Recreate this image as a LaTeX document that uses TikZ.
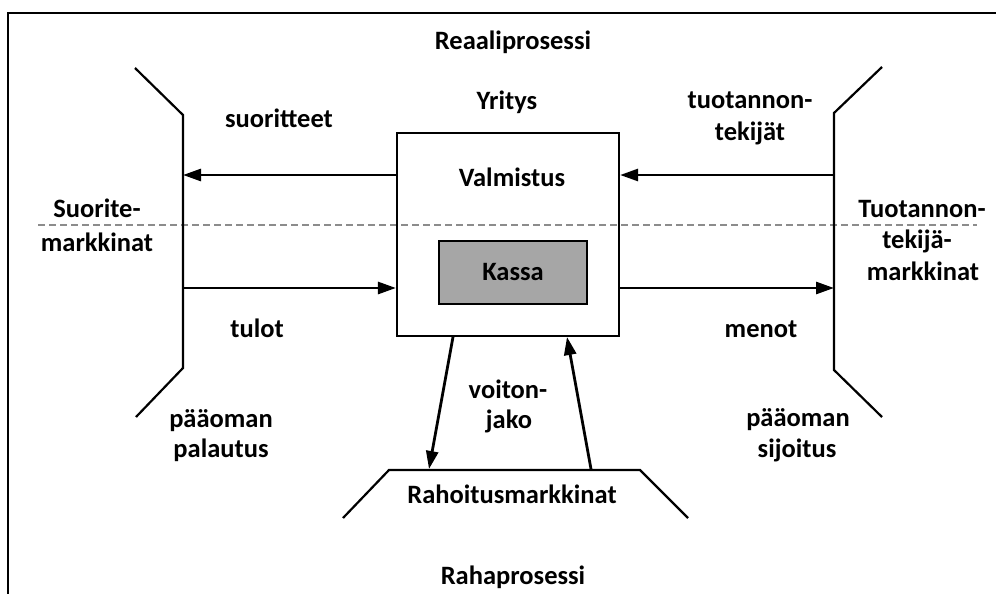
\documentclass[tikz,border=0pt]{standalone}
\usepackage{fontspec}
\setmainfont{Carlito}
\usetikzlibrary{arrows.meta}
\definecolor{kassagray}{HTML}{A6A6A6}
\definecolor{divider}{HTML}{8C8C8C}
\begin{document}
\begin{tikzpicture}[x=1pt,y=-1pt,
  lbl/.style={font=\fontsize{26.5}{31}\selectfont\bfseries, inner sep=0pt, anchor=base},
  market/.style={line width=2.2pt, line join=miter},
  flow/.style={line width=2.8pt, -{Triangle[length=18pt,width=12pt]}},
  ]
\useasboundingbox (0,0) rectangle (996,594);

% frame (top and left edges)
\draw[line width=2.4pt] (8,594) -- (8,13) -- (996,13);

% divider between real and money process
\coordinate (divL) at (38,225);
\coordinate (divR) at (977,225);
\draw[divider, line width=1.1pt, dash pattern=on 7pt off 4pt] (divL) -- (divR);

% firm with its cash box
\node[draw, line width=2.2pt, minimum width=222pt, minimum height=203pt, inner sep=0pt] (firm) at (508,234.5) {};
\node[draw, line width=2.2pt, fill=kassagray, minimum width=148pt, minimum height=63pt, inner sep=0pt,
      font=\fontsize{26.5}{31}\selectfont\bfseries] (kassa) at (513,272.5) {Kassa};

% markets
\coordinate (sA) at (135,68);
\coordinate (sB) at (183,115);
\coordinate (sC) at (183,368);
\coordinate (sD) at (136,417);
\draw[market] (sA) -- (sB) -- (sC) -- (sD);

\coordinate (tA) at (882,67);
\coordinate (tB) at (834,113);
\coordinate (tC) at (834,370);
\coordinate (tD) at (882,417);
\draw[market] (tA) -- (tB) -- (tC) -- (tD);

\coordinate (rA) at (343,518);
\coordinate (rB) at (389,470);
\coordinate (rC) at (640,470);
\coordinate (rD) at (688,518);
\draw[market] (rA) -- (rB) -- (rC) -- (rD);

% flows
\coordinate (sOut) at (183,175);
\coordinate (sIn)  at (183,288);
\coordinate (tOut) at (834,175);
\coordinate (tIn)  at (834,288);
\coordinate (fDiv) at (453,337);
\coordinate (rDiv) at (429,469);
\coordinate (rCap) at (591,469);
\coordinate (fCap) at (567,337);
\draw[flow] (firm.west |- sOut) -- (sOut);
\draw[flow] (tOut) -- (firm.east |- tOut);
\draw[flow] (sIn) -- (firm.west |- sIn);
\draw[flow] (firm.east |- tIn) -- (tIn);
\draw[flow] (fDiv) -- (rDiv);
\draw[flow] (rCap) -- (fCap);

% labels
\node[lbl] (real)  at (513,50)  {Reaaliprosessi};
\node[lbl] (yr)    at (507,110) {Yritys};
\node[lbl] (valm)  at (512,186) {Valmistus};
\node[lbl] (suor)  at (279,127) {suoritteet};
\node[lbl] (tt1)   at (750,108) {tuotannon-};
\node[lbl] (tt2)   at (750,140) {tekijät};
\node[lbl] (sm1)   at (97,217)  {Suorite-};
\node[lbl] (sm2)   at (97,251)  {markkinat};
\node[lbl] (tm1)   at (922,217) {Tuotannon-};
\node[lbl] (tm2)   at (917,248) {tekijä-};
\node[lbl] (tm3)   at (923,280) {markkinat};
\node[lbl] (tulot) at (257,337) {tulot};
\node[lbl] (menot) at (761,337) {menot};
\node[lbl] (vj1)   at (508,398) {voiton-};
\node[lbl] (vj2)   at (509,428) {jako};
\node[lbl] (pp1)   at (221,427) {pääoman};
\node[lbl] (pp2)   at (221,457) {palautus};
\node[lbl] (ps1)   at (798,426) {pääoman};
\node[lbl] (ps2)   at (797,457) {sijoitus};
\node[lbl] (rm)    at (512,503) {Rahoitusmarkkinat};
\node[lbl] (raha)  at (513,584) {Rahaprosessi};
\end{tikzpicture}
\end{document}
